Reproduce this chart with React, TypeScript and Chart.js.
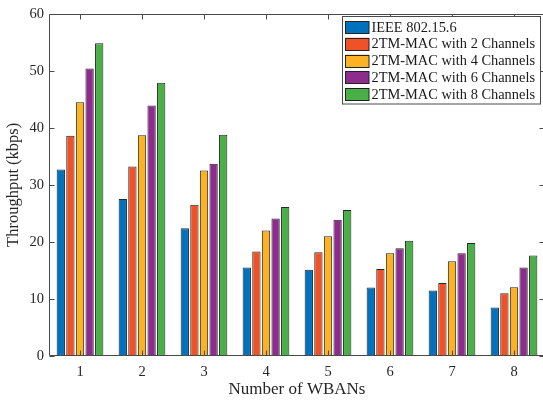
import React, { useEffect, useRef } from "react";
import { Chart, registerables } from "chart.js";

Chart.register(...registerables);

const categories = ["1", "2", "3", "4", "5", "6", "7", "8"];
const seriesLabels = [
  "IEEE 802.15.6",
  "2TM-MAC with 2 Channels",
  "2TM-MAC with 4 Channels",
  "2TM-MAC with 6 Channels",
  "2TM-MAC with 8 Channels",
];
const ieee = [32.7, 27.5, 22.4, 15.5, 15.1, 12.0, 11.5, 8.5];
const ch2 = [38.6, 33.2, 26.5, 18.3, 18.2, 15.25, 12.8, 11.0];
const ch4 = [44.5, 38.7, 32.5, 22.0, 21.0, 18.0, 16.6, 12.05];
const ch6 = [50.4, 43.9, 33.7, 24.1, 23.9, 18.9, 18.0, 15.5];
const ch8 = [54.8, 47.9, 38.8, 26.1, 25.6, 20.2, 19.8, 17.6];
const yTicks = [0, 10, 20, 30, 40, 50, 60];
const colors = ["#0072BD", "#F05228", "#FDB223", "#8E2B8E", "#4BAF48"];

const FONT = "'Liberation Serif', 'Times New Roman', serif";

const framePlugin = {
  id: "frame",
  afterDatasetsDraw(chart: any) {
    const { ctx, chartArea } = chart;
    const { left, right, top, bottom } = chartArea;
    const xs = chart.scales.x;
    const ys = chart.scales.y;
    ctx.save();
    ctx.strokeStyle = "#4a4a4a";
    ctx.lineWidth = 1;
    ctx.beginPath();
    const L = Math.round(left) + 0.5;
    const R = Math.round(right) - 0.5;
    const T = Math.round(top) + 0.5;
    const B = Math.round(bottom) - 0.5;
    ctx.rect(L, T, R - L, B - T);
    const tl = 5;
    yTicks.forEach((v) => {
      const y = Math.round(ys.getPixelForValue(v)) + 0.5;
      ctx.moveTo(L, y);
      ctx.lineTo(L + tl, y);
      ctx.moveTo(R, y);
      ctx.lineTo(R - tl, y);
    });
    categories.forEach((_, i) => {
      const x = Math.round(xs.getPixelForValue(i)) + 0.5;
      ctx.moveTo(x, B);
      ctx.lineTo(x, B - tl);
      ctx.moveTo(x, T);
      ctx.lineTo(x, T + tl);
    });
    ctx.stroke();
    ctx.restore();
  },
  afterDraw(chart: any) {
    const { ctx } = chart;
    const bx = 342.5;
    const by = 16.5;
    const bw = 198;
    const bh = 87.5;
    ctx.save();
    ctx.fillStyle = "#ffffff";
    ctx.fillRect(bx, by, bw, bh);
    ctx.strokeStyle = "#4a4a4a";
    ctx.lineWidth = 1;
    ctx.strokeRect(bx, by, bw, bh);
    ctx.font = `14.4px ${FONT}`;
    ctx.textBaseline = "middle";
    ctx.textAlign = "left";
    chart.data.datasets.forEach((ds: any, i: number) => {
      const cy = 27.3 + i * 16.8;
      ctx.fillStyle = ds.backgroundColor;
      ctx.fillRect(345, cy - 6.3, 24, 12.6);
      ctx.strokeStyle = "#222";
      ctx.strokeRect(345.5, Math.round(cy - 6.3) + 0.5, 23.5, 12);
      ctx.fillStyle = "#1a1a1a";
      ctx.fillText(ds.label, 371.5, cy + 0.5);
    });
    ctx.restore();
  },
};

export default function App() {
  const ref = useRef<HTMLCanvasElement | null>(null);
  useEffect(() => {
    document.body.style.margin = "0";
    if (!ref.current) return;
    const seriesData = [ieee, ch2, ch4, ch6, ch8];
    const chart = new Chart(ref.current, {
      type: "bar",
      data: {
        labels: categories,
        datasets: seriesData.map((d, i) => ({
          label: seriesLabels[i],
          data: d,
          backgroundColor: colors[i],
          borderColor: "#262626",
          borderWidth: 1,
          categoryPercentage: 0.774,
          barPercentage: 0.865,
        })),
      },
      options: {
        responsive: false,
        animation: false,
        layout: { padding: { left: 0, top: 11, right: 7, bottom: 0 } },
        plugins: { legend: { display: false }, tooltip: { enabled: false } },
        scales: {
          x: {
            type: "category",
            offset: true,
            grid: { display: false, drawTicks: false },
            border: { display: false },
            ticks: {
              color: "#262626",
              font: { family: FONT, size: 14.5 },
              padding: 7,
            },
            title: {
              display: true,
              text: "Number of WBANs",
              color: "#262626",
              font: { family: FONT, size: 17 },
              padding: { top: 0, bottom: 3 },
            },
            afterFit(scale: any) {
              scale.height = 47;
            },
          },
          y: {
            min: 0,
            max: 60,
            grid: { display: false, drawTicks: false },
            border: { display: false },
            ticks: {
              stepSize: 10,
              color: "#262626",
              font: { family: FONT, size: 14.5 },
              padding: 5,
            },
            title: {
              display: true,
              text: "Throughput (kbps)",
              color: "#262626",
              font: { family: FONT, size: 16.5 },
              padding: { top: 4, bottom: 0 },
            },
            afterFit(scale: any) {
              scale.width = 49;
            },
          },
        },
      },
      plugins: [framePlugin],
    });
    return () => chart.destroy();
  }, []);
  return (
    <div style={{ width: 543, height: 403, overflow: "hidden", position: "relative" }}>
      <canvas ref={ref} width={552} height={403} style={{ display: "block" }} />
    </div>
  );
}
